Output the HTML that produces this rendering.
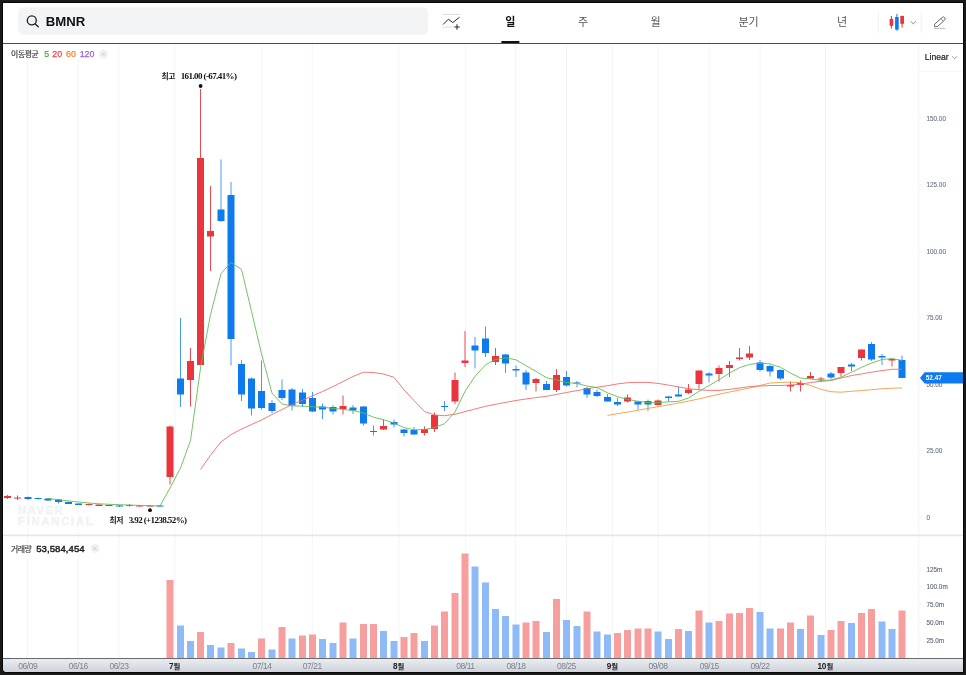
<!DOCTYPE html><html><head><meta charset="utf-8"><title>BMNR</title><style>html,body{margin:0;padding:0;background:#1a1a1a}body{width:966px;height:675px;overflow:hidden;position:relative}</style></head><body><svg width="966" height="675" viewBox="0 0 966 675" style="position:absolute;left:0;top:0;will-change:transform;font-family:'Liberation Sans',sans-serif">
<defs><linearGradient id="ax" x1="0" y1="0" x2="0" y2="1"><stop offset="0" stop-color="#eceef2"/><stop offset="1" stop-color="#cfd3da"/></linearGradient><clipPath id="win"><path d="M3 3H963V672H7Q3 672 3 668Z"/></clipPath></defs>
<rect width="966" height="675" fill="#1a1a1a"/><path d="M2.5 2.5H963.5V672.5H7Q2.5 672.5 2.5 668Z" fill="none" stroke="#070707" stroke-width="1"/>
<g clip-path="url(#win)">
<rect x="3" y="3" width="960" height="669" fill="#fff"/>
<rect x="18.2" y="7.4" width="409.8" height="27.3" rx="5" fill="#f3f4f6"/>
<circle cx="31.8" cy="20.4" r="4.5" fill="none" stroke="#222" stroke-width="1.35"/><path d="M35.1 23.7L38.2 26.7" stroke="#222" stroke-width="1.35" stroke-linecap="round"/>
<text x="45.8" y="26" font-size="13.2" font-weight="700" fill="#111">BMNR</text>
<path d="M442.4 14.45H459.9" stroke="#d6dbe3" stroke-width="1"/><path d="M442.4 27.1H452.9" stroke="#e0e4ea" stroke-width="1.3"/>
<path d="M443.1 24.5L448.4 19.2L452.75 22.6L459.5 17.2" fill="none" stroke="#2a2a2a" stroke-width="1" stroke-linejoin="round"/>
<path d="M454.2 27.05H459.8M457 24.3V29.7" stroke="#333" stroke-width="1.1"/>
<text x="510.4" y="26.4" font-size="11" font-weight="700" text-anchor="middle" fill="#111" style="font-family:'Liberation Sans','Noto Sans CJK KR',sans-serif">일</text>
<text x="583" y="26.3" font-size="11" text-anchor="middle" fill="#555" style="font-family:'Liberation Sans','Noto Sans CJK KR',sans-serif">주</text>
<text x="655.5" y="26.3" font-size="11" text-anchor="middle" fill="#555" style="font-family:'Liberation Sans','Noto Sans CJK KR',sans-serif">월</text>
<text x="748.5" y="26.3" font-size="11" text-anchor="middle" fill="#555" style="font-family:'Liberation Sans','Noto Sans CJK KR',sans-serif">분기</text>
<text x="842" y="26.3" font-size="11" text-anchor="middle" fill="#555" style="font-family:'Liberation Sans','Noto Sans CJK KR',sans-serif">년</text>
<rect x="501.4" y="41" width="18" height="2.4" fill="#111"/>
<rect x="3" y="43" width="960" height="1" fill="#4a4a4a"/>
<path d="M878.3 11.5V33M921.2 11.5V33" stroke="#f0f0f3" stroke-width="1"/>
<path d="M891.4 15.9V28.7M902.1 15.9V27.6" stroke="#e9353b" stroke-width="1"/><path d="M896.9 14V30.7" stroke="#0d7aee" stroke-width="1"/>
<rect x="889.6" y="18.9" width="3.6" height="6.9" fill="#e9353b"/><rect x="895.1" y="17" width="3.6" height="12.6" fill="#0d7aee"/><rect x="900.3" y="15.9" width="3.7" height="7.9" fill="#e9353b"/>
<path d="M910.8 21.4L913.3 23.8L915.8 21.4" fill="none" stroke="#777" stroke-width="0.9"/>
<path d="M934.6 26.7V24.2L942.2 17.5A1.75 1.75 0 0 1 944.6 20.1L937.3 26.7Z" fill="none" stroke="#58606c" stroke-width="0.95" stroke-linejoin="round"/><path d="M940.9 18.7L943.4 21.2" stroke="#58606c" stroke-width="0.8"/><path d="M934.2 28.5H945.6" stroke="#c3c6cc" stroke-width="1"/>
<rect x="27.2" y="44" width="1" height="614" fill="#f4f5f8"/>
<rect x="77.8" y="44" width="1" height="614" fill="#f4f5f8"/>
<rect x="118.5" y="44" width="1" height="614" fill="#f4f5f8"/>
<rect x="174.5" y="44" width="1" height="614" fill="#f4f5f8"/>
<rect x="261.5" y="44" width="1" height="614" fill="#f4f5f8"/>
<rect x="311.8" y="44" width="1" height="614" fill="#f4f5f8"/>
<rect x="398.5" y="44" width="1" height="614" fill="#f4f5f8"/>
<rect x="464.9" y="44" width="1" height="614" fill="#f4f5f8"/>
<rect x="515.0" y="44" width="1" height="614" fill="#f4f5f8"/>
<rect x="566.0" y="44" width="1" height="614" fill="#f4f5f8"/>
<rect x="612.0" y="44" width="1" height="614" fill="#f4f5f8"/>
<rect x="657.3" y="44" width="1" height="614" fill="#f4f5f8"/>
<rect x="708.8" y="44" width="1" height="614" fill="#f4f5f8"/>
<rect x="759.7" y="44" width="1" height="614" fill="#f4f5f8"/>
<rect x="825.0" y="44" width="1" height="614" fill="#f4f5f8"/>
<rect x="918.3" y="44" width="1" height="614" fill="#f2f3f6"/>
<rect x="919" y="71" width="43" height="1" fill="#f6f6f8"/>
<rect x="3" y="534.6" width="960" height="1.6" fill="#e2e5ea"/>
<rect x="3" y="44" width="109" height="15" fill="#fff"/>
<text x="18" y="514" font-size="11.2" font-weight="700" fill="#f2f3f5" stroke="#f2f3f5" stroke-width="0.8" letter-spacing="1.55">NAVER</text>
<text x="18" y="524.5" font-size="11.2" font-weight="700" fill="#f2f3f5" stroke="#f2f3f5" stroke-width="0.8" letter-spacing="1.8">FINANCIAL</text>
<rect x="166.5" y="580.00" width="7" height="78.00" fill="#f79f9f"/>
<rect x="177.0" y="625.50" width="7" height="32.50" fill="#8fbaf8"/>
<rect x="187.0" y="641.00" width="7" height="17.00" fill="#8fbaf8"/>
<rect x="197.0" y="632.00" width="7" height="26.00" fill="#f79f9f"/>
<rect x="207.0" y="645.00" width="7" height="13.00" fill="#8fbaf8"/>
<rect x="217.5" y="647.50" width="7" height="10.50" fill="#8fbaf8"/>
<rect x="227.5" y="643.00" width="7" height="15.00" fill="#f79f9f"/>
<rect x="238.0" y="648.50" width="7" height="9.50" fill="#8fbaf8"/>
<rect x="248.0" y="652.00" width="7" height="6.00" fill="#8fbaf8"/>
<rect x="258.0" y="638.50" width="7" height="19.50" fill="#f79f9f"/>
<rect x="268.5" y="649.50" width="7" height="8.50" fill="#8fbaf8"/>
<rect x="278.5" y="627.00" width="7" height="31.00" fill="#f79f9f"/>
<rect x="288.5" y="638.50" width="7" height="19.50" fill="#8fbaf8"/>
<rect x="299.0" y="635.50" width="7" height="22.50" fill="#f79f9f"/>
<rect x="309.0" y="634.50" width="7" height="23.50" fill="#f79f9f"/>
<rect x="319.0" y="639.00" width="7" height="19.00" fill="#8fbaf8"/>
<rect x="329.5" y="643.00" width="7" height="15.00" fill="#8fbaf8"/>
<rect x="339.5" y="622.50" width="7" height="35.50" fill="#f79f9f"/>
<rect x="349.5" y="638.50" width="7" height="19.50" fill="#8fbaf8"/>
<rect x="360.0" y="624.00" width="7" height="34.00" fill="#f79f9f"/>
<rect x="370.0" y="624.00" width="7" height="34.00" fill="#f79f9f"/>
<rect x="380.0" y="631.00" width="7" height="27.00" fill="#8fbaf8"/>
<rect x="390.5" y="641.00" width="7" height="17.00" fill="#8fbaf8"/>
<rect x="400.5" y="637.00" width="7" height="21.00" fill="#f79f9f"/>
<rect x="410.5" y="633.00" width="7" height="25.00" fill="#f79f9f"/>
<rect x="421.0" y="641.00" width="7" height="17.00" fill="#8fbaf8"/>
<rect x="431.0" y="625.50" width="7" height="32.50" fill="#f79f9f"/>
<rect x="441.0" y="611.50" width="7" height="46.50" fill="#f79f9f"/>
<rect x="451.5" y="593.00" width="7" height="65.00" fill="#f79f9f"/>
<rect x="461.5" y="553.50" width="7" height="104.50" fill="#f79f9f"/>
<rect x="471.5" y="566.50" width="7" height="91.50" fill="#8fbaf8"/>
<rect x="482.0" y="582.50" width="7" height="75.50" fill="#8fbaf8"/>
<rect x="492.0" y="609.00" width="7" height="49.00" fill="#8fbaf8"/>
<rect x="502.0" y="616.00" width="7" height="42.00" fill="#8fbaf8"/>
<rect x="512.5" y="624.50" width="7" height="33.50" fill="#8fbaf8"/>
<rect x="522.5" y="622.50" width="7" height="35.50" fill="#f79f9f"/>
<rect x="532.5" y="621.00" width="7" height="37.00" fill="#f79f9f"/>
<rect x="543.0" y="632.00" width="7" height="26.00" fill="#8fbaf8"/>
<rect x="553.0" y="599.00" width="7" height="59.00" fill="#f79f9f"/>
<rect x="563.0" y="620.00" width="7" height="38.00" fill="#8fbaf8"/>
<rect x="573.5" y="626.00" width="7" height="32.00" fill="#8fbaf8"/>
<rect x="583.5" y="611.50" width="7" height="46.50" fill="#f79f9f"/>
<rect x="593.5" y="631.50" width="7" height="26.50" fill="#8fbaf8"/>
<rect x="604.0" y="634.50" width="7" height="23.50" fill="#8fbaf8"/>
<rect x="614.0" y="633.00" width="7" height="25.00" fill="#f79f9f"/>
<rect x="624.0" y="630.00" width="7" height="28.00" fill="#f79f9f"/>
<rect x="634.5" y="628.50" width="7" height="29.50" fill="#f79f9f"/>
<rect x="644.5" y="628.50" width="7" height="29.50" fill="#f79f9f"/>
<rect x="654.5" y="631.50" width="7" height="26.50" fill="#8fbaf8"/>
<rect x="665.0" y="639.00" width="7" height="19.00" fill="#8fbaf8"/>
<rect x="675.0" y="629.00" width="7" height="29.00" fill="#f79f9f"/>
<rect x="685.0" y="631.00" width="7" height="27.00" fill="#8fbaf8"/>
<rect x="695.5" y="610.50" width="7" height="47.50" fill="#f79f9f"/>
<rect x="705.5" y="622.50" width="7" height="35.50" fill="#8fbaf8"/>
<rect x="715.5" y="621.00" width="7" height="37.00" fill="#f79f9f"/>
<rect x="726.0" y="613.50" width="7" height="44.50" fill="#f79f9f"/>
<rect x="736.0" y="613.00" width="7" height="45.00" fill="#f79f9f"/>
<rect x="746.0" y="608.00" width="7" height="50.00" fill="#f79f9f"/>
<rect x="756.5" y="612.00" width="7" height="46.00" fill="#8fbaf8"/>
<rect x="766.5" y="628.50" width="7" height="29.50" fill="#8fbaf8"/>
<rect x="777.0" y="628.50" width="7" height="29.50" fill="#f79f9f"/>
<rect x="787.0" y="622.50" width="7" height="35.50" fill="#f79f9f"/>
<rect x="797.0" y="629.00" width="7" height="29.00" fill="#8fbaf8"/>
<rect x="807.0" y="615.50" width="7" height="42.50" fill="#f79f9f"/>
<rect x="817.5" y="635.00" width="7" height="23.00" fill="#8fbaf8"/>
<rect x="827.5" y="630.00" width="7" height="28.00" fill="#f79f9f"/>
<rect x="837.5" y="621.00" width="7" height="37.00" fill="#f79f9f"/>
<rect x="848.0" y="623.00" width="7" height="35.00" fill="#8fbaf8"/>
<rect x="858.0" y="613.00" width="7" height="45.00" fill="#f79f9f"/>
<rect x="868.0" y="609.00" width="7" height="49.00" fill="#f79f9f"/>
<rect x="878.5" y="621.50" width="7" height="36.50" fill="#8fbaf8"/>
<rect x="888.5" y="629.00" width="7" height="29.00" fill="#8fbaf8"/>
<rect x="898.5" y="610.50" width="7" height="47.50" fill="#f79f9f"/>
<rect x="7.0" y="495.00" width="1" height="4.00" fill="#ec4a50"/>
<rect x="4.0" y="496.00" width="7" height="2.00" fill="#e9353b"/>
<rect x="17.0" y="495.50" width="1" height="4.50" fill="#ec4a50"/>
<rect x="14.0" y="497.50" width="7" height="1.00" fill="#e9353b"/>
<rect x="27.5" y="496.50" width="1" height="3.50" fill="#4b9af2"/>
<rect x="24.5" y="497.00" width="7" height="2.00" fill="#0d7aee"/>
<rect x="37.5" y="497.50" width="1" height="2.00" fill="#4b9af2"/>
<rect x="34.5" y="498.00" width="7" height="1.00" fill="#0d7aee"/>
<rect x="47.5" y="498.00" width="1" height="3.00" fill="#4b9af2"/>
<rect x="44.5" y="498.50" width="7" height="2.00" fill="#0d7aee"/>
<rect x="58.0" y="499.00" width="1" height="4.50" fill="#4b9af2"/>
<rect x="55.0" y="499.50" width="7" height="2.50" fill="#0d7aee"/>
<rect x="68.0" y="501.50" width="1" height="2.50" fill="#4b9af2"/>
<rect x="65.0" y="502.00" width="7" height="2.00" fill="#0d7aee"/>
<rect x="78.0" y="503.50" width="1" height="1.50" fill="#4b9af2"/>
<rect x="75.0" y="503.50" width="7" height="1.50" fill="#0d7aee"/>
<rect x="88.5" y="503.50" width="1" height="2.00" fill="#ec4a50"/>
<rect x="85.5" y="504.00" width="7" height="1.00" fill="#e9353b"/>
<rect x="98.5" y="504.50" width="1" height="1.50" fill="#ec4a50"/>
<rect x="95.5" y="504.50" width="7" height="1.50" fill="#e9353b"/>
<rect x="108.5" y="505.00" width="1" height="1.00" fill="#4b9af2"/>
<rect x="105.5" y="505.00" width="7" height="1.00" fill="#0d7aee"/>
<rect x="119.0" y="505.00" width="1" height="2.00" fill="#4b9af2"/>
<rect x="116.0" y="505.50" width="7" height="1.00" fill="#0d7aee"/>
<rect x="129.0" y="504.00" width="1" height="2.50" fill="#ec4a50"/>
<rect x="126.0" y="505.00" width="7" height="1.00" fill="#e9353b"/>
<rect x="139.0" y="505.00" width="1" height="1.50" fill="#ec4a50"/>
<rect x="136.0" y="505.50" width="7" height="1.00" fill="#e9353b"/>
<rect x="149.5" y="505.00" width="1" height="1.50" fill="#ec4a50"/>
<rect x="146.5" y="505.50" width="7" height="1.00" fill="#e9353b"/>
<rect x="159.5" y="505.00" width="1" height="2.00" fill="#4b9af2"/>
<rect x="156.5" y="505.50" width="7" height="1.00" fill="#0d7aee"/>
<rect x="169.5" y="425.50" width="1" height="59.00" fill="#ec4a50"/>
<rect x="166.5" y="426.50" width="7" height="50.50" fill="#e9353b"/>
<rect x="180.0" y="318.00" width="1" height="89.00" fill="#4b9af2"/>
<rect x="177.0" y="378.50" width="7" height="16.00" fill="#0d7aee"/>
<rect x="190.0" y="348.00" width="1" height="58.50" fill="#ec4a50"/>
<rect x="187.0" y="361.00" width="7" height="19.00" fill="#e9353b"/>
<rect x="200.0" y="89.00" width="1" height="276.00" fill="#ec4a50"/>
<rect x="197.0" y="158.00" width="7" height="207.00" fill="#e9353b"/>
<rect x="210.0" y="186.00" width="1" height="85.00" fill="#ec4a50"/>
<rect x="207.0" y="231.00" width="7" height="5.50" fill="#e9353b"/>
<rect x="220.5" y="159.50" width="1" height="62.50" fill="#4b9af2"/>
<rect x="217.5" y="209.50" width="7" height="11.50" fill="#0d7aee"/>
<rect x="230.5" y="182.00" width="1" height="183.50" fill="#4b9af2"/>
<rect x="227.5" y="195.00" width="7" height="144.00" fill="#0d7aee"/>
<rect x="241.0" y="360.00" width="1" height="41.00" fill="#4b9af2"/>
<rect x="238.0" y="364.00" width="7" height="30.50" fill="#0d7aee"/>
<rect x="251.0" y="377.50" width="1" height="38.00" fill="#4b9af2"/>
<rect x="248.0" y="378.50" width="7" height="30.00" fill="#0d7aee"/>
<rect x="261.0" y="360.50" width="1" height="49.00" fill="#4b9af2"/>
<rect x="258.0" y="391.00" width="7" height="17.00" fill="#0d7aee"/>
<rect x="271.5" y="400.00" width="1" height="13.00" fill="#4b9af2"/>
<rect x="268.5" y="403.00" width="7" height="8.00" fill="#0d7aee"/>
<rect x="281.5" y="379.50" width="1" height="20.50" fill="#4b9af2"/>
<rect x="278.5" y="390.00" width="7" height="8.00" fill="#0d7aee"/>
<rect x="291.5" y="388.00" width="1" height="22.50" fill="#4b9af2"/>
<rect x="288.5" y="389.50" width="7" height="16.00" fill="#0d7aee"/>
<rect x="302.0" y="389.00" width="1" height="18.00" fill="#4b9af2"/>
<rect x="299.0" y="392.50" width="7" height="11.50" fill="#0d7aee"/>
<rect x="312.0" y="392.00" width="1" height="20.00" fill="#4b9af2"/>
<rect x="309.0" y="398.00" width="7" height="13.50" fill="#0d7aee"/>
<rect x="322.0" y="403.50" width="1" height="15.50" fill="#4b9af2"/>
<rect x="319.0" y="406.50" width="7" height="3.00" fill="#0d7aee"/>
<rect x="332.5" y="405.00" width="1" height="9.50" fill="#4b9af2"/>
<rect x="329.5" y="407.00" width="7" height="4.50" fill="#0d7aee"/>
<rect x="342.5" y="395.50" width="1" height="19.00" fill="#ec4a50"/>
<rect x="339.5" y="406.00" width="7" height="3.00" fill="#e9353b"/>
<rect x="352.5" y="405.00" width="1" height="9.00" fill="#4b9af2"/>
<rect x="349.5" y="407.50" width="7" height="3.00" fill="#0d7aee"/>
<rect x="363.0" y="406.00" width="1" height="19.50" fill="#4b9af2"/>
<rect x="360.0" y="406.50" width="7" height="17.00" fill="#0d7aee"/>
<rect x="373.0" y="425.50" width="1" height="10.00" fill="#4b9af2"/>
<rect x="370.0" y="431.00" width="7" height="1.00" fill="#0d7aee"/>
<rect x="383.0" y="419.50" width="1" height="10.50" fill="#ec4a50"/>
<rect x="380.0" y="426.00" width="7" height="3.50" fill="#e9353b"/>
<rect x="393.5" y="419.50" width="1" height="8.00" fill="#4b9af2"/>
<rect x="390.5" y="422.00" width="7" height="2.50" fill="#0d7aee"/>
<rect x="403.5" y="429.00" width="1" height="7.50" fill="#4b9af2"/>
<rect x="400.5" y="429.50" width="7" height="3.50" fill="#0d7aee"/>
<rect x="413.5" y="427.00" width="1" height="7.50" fill="#4b9af2"/>
<rect x="410.5" y="430.00" width="7" height="4.50" fill="#0d7aee"/>
<rect x="424.0" y="426.50" width="1" height="9.00" fill="#ec4a50"/>
<rect x="421.0" y="429.00" width="7" height="4.00" fill="#e9353b"/>
<rect x="434.0" y="412.50" width="1" height="19.50" fill="#ec4a50"/>
<rect x="431.0" y="415.00" width="7" height="14.00" fill="#e9353b"/>
<rect x="444.0" y="401.00" width="1" height="10.00" fill="#4b9af2"/>
<rect x="441.0" y="406.00" width="7" height="1.00" fill="#0d7aee"/>
<rect x="454.5" y="372.50" width="1" height="31.50" fill="#ec4a50"/>
<rect x="451.5" y="380.00" width="7" height="21.50" fill="#e9353b"/>
<rect x="464.5" y="331.00" width="1" height="36.00" fill="#ec4a50"/>
<rect x="461.5" y="360.50" width="7" height="2.50" fill="#e9353b"/>
<rect x="474.5" y="337.00" width="1" height="31.50" fill="#4b9af2"/>
<rect x="471.5" y="345.50" width="7" height="5.00" fill="#0d7aee"/>
<rect x="485.0" y="326.50" width="1" height="30.50" fill="#4b9af2"/>
<rect x="482.0" y="338.50" width="7" height="14.50" fill="#0d7aee"/>
<rect x="495.0" y="348.00" width="1" height="17.00" fill="#ec4a50"/>
<rect x="492.0" y="356.00" width="7" height="6.00" fill="#e9353b"/>
<rect x="505.0" y="354.00" width="1" height="19.00" fill="#4b9af2"/>
<rect x="502.0" y="354.50" width="7" height="9.00" fill="#0d7aee"/>
<rect x="515.5" y="365.50" width="1" height="11.50" fill="#4b9af2"/>
<rect x="512.5" y="369.00" width="7" height="1.50" fill="#0d7aee"/>
<rect x="525.5" y="370.00" width="1" height="20.00" fill="#4b9af2"/>
<rect x="522.5" y="372.50" width="7" height="12.00" fill="#0d7aee"/>
<rect x="535.5" y="378.00" width="1" height="13.50" fill="#ec4a50"/>
<rect x="532.5" y="379.00" width="7" height="4.00" fill="#e9353b"/>
<rect x="546.0" y="381.00" width="1" height="9.00" fill="#4b9af2"/>
<rect x="543.0" y="384.00" width="7" height="6.00" fill="#0d7aee"/>
<rect x="556.0" y="369.00" width="1" height="23.00" fill="#ec4a50"/>
<rect x="553.0" y="375.00" width="7" height="15.00" fill="#e9353b"/>
<rect x="566.0" y="371.00" width="1" height="15.50" fill="#4b9af2"/>
<rect x="563.0" y="377.00" width="7" height="8.50" fill="#0d7aee"/>
<rect x="576.5" y="381.00" width="1" height="6.50" fill="#4b9af2"/>
<rect x="573.5" y="382.50" width="7" height="1.00" fill="#0d7aee"/>
<rect x="586.5" y="387.00" width="1" height="11.00" fill="#4b9af2"/>
<rect x="583.5" y="388.00" width="7" height="6.50" fill="#0d7aee"/>
<rect x="596.5" y="389.50" width="1" height="7.50" fill="#4b9af2"/>
<rect x="593.5" y="392.00" width="7" height="4.00" fill="#0d7aee"/>
<rect x="607.0" y="394.00" width="1" height="7.50" fill="#4b9af2"/>
<rect x="604.0" y="397.00" width="7" height="4.50" fill="#0d7aee"/>
<rect x="617.0" y="398.00" width="1" height="8.00" fill="#4b9af2"/>
<rect x="614.0" y="402.00" width="7" height="2.50" fill="#0d7aee"/>
<rect x="627.0" y="394.50" width="1" height="8.00" fill="#ec4a50"/>
<rect x="624.0" y="397.50" width="7" height="4.00" fill="#e9353b"/>
<rect x="637.5" y="401.00" width="1" height="8.50" fill="#4b9af2"/>
<rect x="634.5" y="401.50" width="7" height="3.00" fill="#0d7aee"/>
<rect x="647.5" y="399.50" width="1" height="11.50" fill="#4b9af2"/>
<rect x="644.5" y="401.00" width="7" height="3.50" fill="#0d7aee"/>
<rect x="657.5" y="399.50" width="1" height="6.00" fill="#ec4a50"/>
<rect x="654.5" y="400.50" width="7" height="4.50" fill="#e9353b"/>
<rect x="668.0" y="396.00" width="1" height="5.50" fill="#4b9af2"/>
<rect x="665.0" y="396.50" width="7" height="1.50" fill="#0d7aee"/>
<rect x="678.0" y="386.50" width="1" height="10.00" fill="#4b9af2"/>
<rect x="675.0" y="394.50" width="7" height="2.00" fill="#0d7aee"/>
<rect x="688.0" y="384.00" width="1" height="10.00" fill="#ec4a50"/>
<rect x="685.0" y="389.50" width="7" height="3.50" fill="#e9353b"/>
<rect x="698.5" y="370.50" width="1" height="18.50" fill="#ec4a50"/>
<rect x="695.5" y="370.50" width="7" height="13.50" fill="#e9353b"/>
<rect x="708.5" y="372.00" width="1" height="10.50" fill="#4b9af2"/>
<rect x="705.5" y="373.50" width="7" height="2.00" fill="#0d7aee"/>
<rect x="718.5" y="365.50" width="1" height="16.00" fill="#ec4a50"/>
<rect x="715.5" y="368.00" width="7" height="6.00" fill="#e9353b"/>
<rect x="729.0" y="361.00" width="1" height="16.00" fill="#ec4a50"/>
<rect x="726.0" y="365.00" width="7" height="3.00" fill="#e9353b"/>
<rect x="739.0" y="348.00" width="1" height="12.50" fill="#ec4a50"/>
<rect x="736.0" y="357.50" width="7" height="1.50" fill="#e9353b"/>
<rect x="749.0" y="346.00" width="1" height="14.00" fill="#ec4a50"/>
<rect x="746.0" y="353.50" width="7" height="4.00" fill="#e9353b"/>
<rect x="759.5" y="360.00" width="1" height="11.50" fill="#4b9af2"/>
<rect x="756.5" y="362.50" width="7" height="7.50" fill="#0d7aee"/>
<rect x="769.5" y="365.00" width="1" height="11.50" fill="#4b9af2"/>
<rect x="766.5" y="366.00" width="7" height="5.50" fill="#0d7aee"/>
<rect x="780.0" y="369.50" width="1" height="10.50" fill="#4b9af2"/>
<rect x="777.0" y="370.00" width="7" height="8.50" fill="#0d7aee"/>
<rect x="790.0" y="381.50" width="1" height="10.00" fill="#ec4a50"/>
<rect x="787.0" y="385.00" width="7" height="1.50" fill="#e9353b"/>
<rect x="800.0" y="380.50" width="1" height="11.00" fill="#ec4a50"/>
<rect x="797.0" y="383.00" width="7" height="2.00" fill="#e9353b"/>
<rect x="810.0" y="372.00" width="1" height="7.00" fill="#ec4a50"/>
<rect x="807.0" y="376.00" width="7" height="2.50" fill="#e9353b"/>
<rect x="820.5" y="377.00" width="1" height="5.00" fill="#ec4a50"/>
<rect x="817.5" y="378.50" width="7" height="1.00" fill="#e9353b"/>
<rect x="830.5" y="372.00" width="1" height="7.00" fill="#4b9af2"/>
<rect x="827.5" y="373.50" width="7" height="4.00" fill="#0d7aee"/>
<rect x="840.5" y="367.00" width="1" height="9.50" fill="#ec4a50"/>
<rect x="837.5" y="367.00" width="7" height="6.00" fill="#e9353b"/>
<rect x="851.0" y="363.00" width="1" height="8.00" fill="#4b9af2"/>
<rect x="848.0" y="364.50" width="7" height="2.00" fill="#0d7aee"/>
<rect x="861.0" y="349.50" width="1" height="11.00" fill="#ec4a50"/>
<rect x="858.0" y="349.50" width="7" height="8.50" fill="#e9353b"/>
<rect x="871.0" y="342.00" width="1" height="19.00" fill="#4b9af2"/>
<rect x="868.0" y="344.00" width="7" height="15.50" fill="#0d7aee"/>
<rect x="881.5" y="354.00" width="1" height="11.00" fill="#4b9af2"/>
<rect x="878.5" y="356.00" width="7" height="1.50" fill="#0d7aee"/>
<rect x="891.5" y="358.50" width="1" height="8.00" fill="#ec4a50"/>
<rect x="888.5" y="359.00" width="7" height="1.50" fill="#e9353b"/>
<rect x="901.5" y="355.50" width="1" height="22.50" fill="#4b9af2"/>
<rect x="898.5" y="360.00" width="7" height="18.00" fill="#0d7aee"/>
<polyline points="607.5,415.4 617.5,413.7 627.5,412.1 638.0,410.3 648.0,408.4 658.0,406.7 668.5,404.8 678.5,403.0 688.5,401.1 699.0,398.9 709.0,396.5 719.0,394.3 729.5,392.0 739.5,390.0 749.5,388.0 760.0,385.5 770.0,383.0 780.5,382.4 790.5,382.2 800.5,382.7 810.5,385.5 821.0,389.3 831.0,391.7 841.0,392.2 851.5,391.3 861.5,390.5 871.5,389.7 882.0,388.8 892.0,388.2 902.0,387.9" fill="none" stroke="#f59a3e" stroke-width="0.9" stroke-linejoin="round"/>
<polyline points="200.5,469.5 210.5,455.2 221.0,441.9 231.0,434.6 241.5,429.1 251.5,424.5 261.5,420.0 272.0,414.5 282.0,409.5 292.0,404.6 302.5,400.2 312.5,395.8 322.5,391.5 333.0,386.5 343.0,381.5 353.0,376.5 363.5,372.2 373.5,372.5 383.5,374.0 394.0,377.3 404.0,389.8 414.0,400.6 424.5,411.4 434.5,415.0 444.5,415.7 455.0,414.3 465.0,411.6 475.0,409.0 485.5,406.3 495.5,404.3 505.5,402.4 516.0,400.5 526.0,399.0 536.0,397.6 546.5,396.3 556.5,394.4 566.5,392.5 577.0,390.6 587.0,388.8 597.0,387.2 607.5,385.7 617.5,383.9 627.5,382.7 638.0,382.4 648.0,382.4 658.0,383.4 668.5,385.1 678.5,386.9 688.5,388.7 699.0,389.7 709.0,390.4 719.0,390.4 729.5,389.4 739.5,388.0 749.5,386.6 760.0,386.0 770.0,385.5 780.5,385.5 790.5,385.0 800.5,384.2 810.5,382.5 821.0,381.4 831.0,380.5 841.0,378.0 851.5,375.6 861.5,373.9 871.5,372.2 882.0,370.6 892.0,369.3 902.0,369.2" fill="none" stroke="#f26b6b" stroke-width="0.9" stroke-linejoin="round"/>
<polyline points="48.0,498.5 58.5,499.7 68.5,500.9 78.5,502.0 89.0,503.0 99.0,503.8 109.0,504.3 119.5,504.7 129.5,505.1 139.5,505.4 150.0,505.7 160.0,505.9 170.0,488.0 180.5,468.0 190.5,440.5 200.5,368.0 210.5,314.7 221.0,273.6 231.0,262.4 241.5,269.4 251.5,311.3 261.5,353.8 272.0,393.1 282.0,403.9 292.0,405.9 302.5,406.1 312.5,406.7 322.5,407.2 333.0,408.4 343.0,409.4 353.0,410.5 363.5,413.0 373.5,417.2 383.5,419.7 394.0,423.0 404.0,427.6 414.0,429.8 424.5,429.6 434.5,427.5 444.5,423.8 455.0,412.0 465.0,391.3 475.0,376.4 485.5,364.8 495.5,359.5 505.5,357.8 516.0,359.8 526.0,365.6 536.0,371.4 546.5,377.7 556.5,380.0 566.5,382.5 577.0,383.5 587.0,386.0 597.0,387.5 607.5,392.8 617.5,396.7 627.5,399.3 638.0,401.3 648.0,402.5 658.0,402.7 668.5,401.8 678.5,401.3 688.5,398.0 699.0,391.4 709.0,385.6 719.0,379.8 729.5,373.1 739.5,367.7 749.5,364.4 760.0,363.1 770.0,363.9 780.5,367.3 790.5,373.1 800.5,378.0 810.5,378.9 821.0,380.5 831.0,380.0 841.0,377.2 851.5,372.2 861.5,367.3 871.5,363.1 882.0,359.5 892.0,358.6 902.0,360.3" fill="none" stroke="#63bd52" stroke-width="0.9" stroke-linejoin="round"/>
<circle cx="200.6" cy="86" r="1.9" fill="#111"/><circle cx="150" cy="510.2" r="1.9" fill="#111"/>
<text x="161.4" y="78.8" font-size="7.8" font-weight="700" letter-spacing="-0.4" fill="#222" style="font-family:'Liberation Sans','Noto Sans CJK KR',sans-serif">최고</text>
<text x="180.7" y="78.9" font-family="'Liberation Serif',serif" font-weight="700" font-size="9" letter-spacing="-0.6" fill="#111">161.00 (-67.41%)</text>
<text x="109.4" y="523.1" font-size="7.8" font-weight="700" letter-spacing="-0.4" fill="#222" style="font-family:'Liberation Sans','Noto Sans CJK KR',sans-serif">최저</text>
<text x="128.7" y="523.2" font-family="'Liberation Serif',serif" font-weight="700" font-size="9" letter-spacing="-0.6" fill="#111">3.92 (+1238.52%)</text>
<text x="11.1" y="57.3" font-size="7.9" letter-spacing="-0.45" fill="#444" stroke="#444" stroke-width="0.2" style="font-family:'Liberation Sans','Noto Sans CJK KR',sans-serif">이동평균</text>
<text y="57.3" font-size="8.8" stroke-width="0.25"><tspan x="44.2" fill="#4db23c" stroke="#4db23c">5</tspan><tspan x="52.3" fill="#f04452" stroke="#f04452">20</tspan><tspan x="66" fill="#f5841f" stroke="#f5841f">60</tspan><tspan x="79.7" fill="#9b5fd6" stroke="#9b5fd6">120</tspan></text>
<circle cx="103.4" cy="54.2" r="4.5" fill="#f0f1f3"/><path d="M101.8 52.6L105 55.8M105 52.6L101.8 55.8" stroke="#c3c6cc" stroke-width="0.8"/>
<text x="10.9" y="551.7" font-size="7.9" letter-spacing="-0.4" fill="#444" stroke="#444" stroke-width="0.2" style="font-family:'Liberation Sans','Noto Sans CJK KR',sans-serif">거래량</text>
<text x="36.2" y="551.8" font-size="9.6" fill="#222" stroke="#222" stroke-width="0.45" letter-spacing="0.05">53,584,454</text>
<circle cx="94.9" cy="548.4" r="4.5" fill="#f0f1f3"/><path d="M93.3 546.8L96.5 550M96.5 546.8L93.3 550" stroke="#c3c6cc" stroke-width="0.8"/>
<text x="924.7" y="60" font-size="8.6" fill="#222" stroke="#222" stroke-width="0.2">Linear</text><path d="M952.2 56.4L954.6 58.7L957 56.4" fill="none" stroke="#777" stroke-width="0.8"/>
<text transform="translate(926.4,120.5) scale(0.8,1)" font-size="8" fill="#687284" stroke="#687284" stroke-width="0.12">150.00</text>
<rect x="919" y="117.5" width="2.5" height="1" fill="#eef0f3"/>
<text transform="translate(926.4,187.0) scale(0.8,1)" font-size="8" fill="#687284" stroke="#687284" stroke-width="0.12">125.00</text>
<rect x="919" y="184.0" width="2.5" height="1" fill="#eef0f3"/>
<text transform="translate(926.4,253.5) scale(0.8,1)" font-size="8" fill="#687284" stroke="#687284" stroke-width="0.12">100.00</text>
<rect x="919" y="250.5" width="2.5" height="1" fill="#eef0f3"/>
<text transform="translate(926.4,320.0) scale(0.8,1)" font-size="8" fill="#687284" stroke="#687284" stroke-width="0.12">75.00</text>
<rect x="919" y="317.0" width="2.5" height="1" fill="#eef0f3"/>
<text transform="translate(926.4,386.5) scale(0.8,1)" font-size="8" fill="#687284" stroke="#687284" stroke-width="0.12">50.00</text>
<rect x="919" y="383.5" width="2.5" height="1" fill="#eef0f3"/>
<text transform="translate(926.4,453.0) scale(0.8,1)" font-size="8" fill="#687284" stroke="#687284" stroke-width="0.12">25.00</text>
<rect x="919" y="450.0" width="2.5" height="1" fill="#eef0f3"/>
<text transform="translate(926.4,519.5) scale(0.8,1)" font-size="8" fill="#687284" stroke="#687284" stroke-width="0.12">0</text>
<rect x="919" y="516.5" width="2.5" height="1" fill="#eef0f3"/>
<text transform="translate(926.4,571.6) scale(0.8,1)" font-size="8" fill="#5c6678" stroke="#5c6678" stroke-width="0.12">125m</text>
<rect x="919" y="568.5" width="2.5" height="1" fill="#eef0f3"/>
<text transform="translate(926.4,589.3) scale(0.8,1)" font-size="8" fill="#5c6678" stroke="#5c6678" stroke-width="0.12">100.0m</text>
<rect x="919" y="586.2" width="2.5" height="1" fill="#eef0f3"/>
<text transform="translate(926.4,607.2) scale(0.8,1)" font-size="8" fill="#5c6678" stroke="#5c6678" stroke-width="0.12">75.0m</text>
<rect x="919" y="604.1" width="2.5" height="1" fill="#eef0f3"/>
<text transform="translate(926.4,624.9) scale(0.8,1)" font-size="8" fill="#5c6678" stroke="#5c6678" stroke-width="0.12">50.0m</text>
<rect x="919" y="621.8" width="2.5" height="1" fill="#eef0f3"/>
<text transform="translate(926.4,642.6) scale(0.8,1)" font-size="8" fill="#5c6678" stroke="#5c6678" stroke-width="0.12">25.0m</text>
<rect x="919" y="639.5" width="2.5" height="1" fill="#eef0f3"/>
<path d="M920 377.9L924.6 372.3H963V383.5H924.6Z" fill="#0d7aee"/>
<text transform="translate(925.8,380.3) scale(0.8,1)" font-size="8" font-weight="700" fill="#fff">52.47</text>
<rect x="3" y="658" width="960" height="14" fill="url(#ax)"/>
<rect x="3" y="658" width="960" height="1" fill="#6b6b6b"/><rect x="3" y="658" width="7.6" height="1" fill="#40608c"/>
<text x="27.7" y="669" font-size="8.5" letter-spacing="-0.47" text-anchor="middle" fill="#7d838e">06/09</text>
<text x="78.3" y="669" font-size="8.5" letter-spacing="-0.47" text-anchor="middle" fill="#7d838e">06/16</text>
<text x="119.0" y="669" font-size="8.5" letter-spacing="-0.47" text-anchor="middle" fill="#7d838e">06/23</text>
<text x="262.0" y="669" font-size="8.5" letter-spacing="-0.47" text-anchor="middle" fill="#7d838e">07/14</text>
<text x="312.3" y="669" font-size="8.5" letter-spacing="-0.47" text-anchor="middle" fill="#7d838e">07/21</text>
<text x="465.4" y="669" font-size="8.5" letter-spacing="-0.47" text-anchor="middle" fill="#7d838e">08/11</text>
<text x="516.0" y="669" font-size="8.5" letter-spacing="-0.47" text-anchor="middle" fill="#7d838e">08/18</text>
<text x="566.4" y="669" font-size="8.5" letter-spacing="-0.47" text-anchor="middle" fill="#7d838e">08/25</text>
<text x="658.0" y="669" font-size="8.5" letter-spacing="-0.47" text-anchor="middle" fill="#7d838e">09/08</text>
<text x="709.3" y="669" font-size="8.5" letter-spacing="-0.47" text-anchor="middle" fill="#7d838e">09/15</text>
<text x="760.0" y="669" font-size="8.5" letter-spacing="-0.47" text-anchor="middle" fill="#7d838e">09/22</text>
<text x="169.1" y="669" font-size="8.2" font-weight="700" letter-spacing="-0.2" fill="#222">7</text>
<text x="173.5" y="668.9" font-size="7.4" font-weight="700" fill="#222" style="font-family:'Liberation Sans','Noto Sans CJK KR',sans-serif">월</text>
<text x="393.1" y="669" font-size="8.2" font-weight="700" letter-spacing="-0.2" fill="#222">8</text>
<text x="397.5" y="668.9" font-size="7.4" font-weight="700" fill="#222" style="font-family:'Liberation Sans','Noto Sans CJK KR',sans-serif">월</text>
<text x="606.8" y="669" font-size="8.2" font-weight="700" letter-spacing="-0.2" fill="#222">9</text>
<text x="611.2" y="668.9" font-size="7.4" font-weight="700" fill="#222" style="font-family:'Liberation Sans','Noto Sans CJK KR',sans-serif">월</text>
<text x="817.5" y="669" font-size="8.2" font-weight="700" letter-spacing="-0.2" fill="#222">10</text>
<text x="826.45" y="668.9" font-size="7.4" font-weight="700" fill="#222" style="font-family:'Liberation Sans','Noto Sans CJK KR',sans-serif">월</text>
</g></svg></body></html>
